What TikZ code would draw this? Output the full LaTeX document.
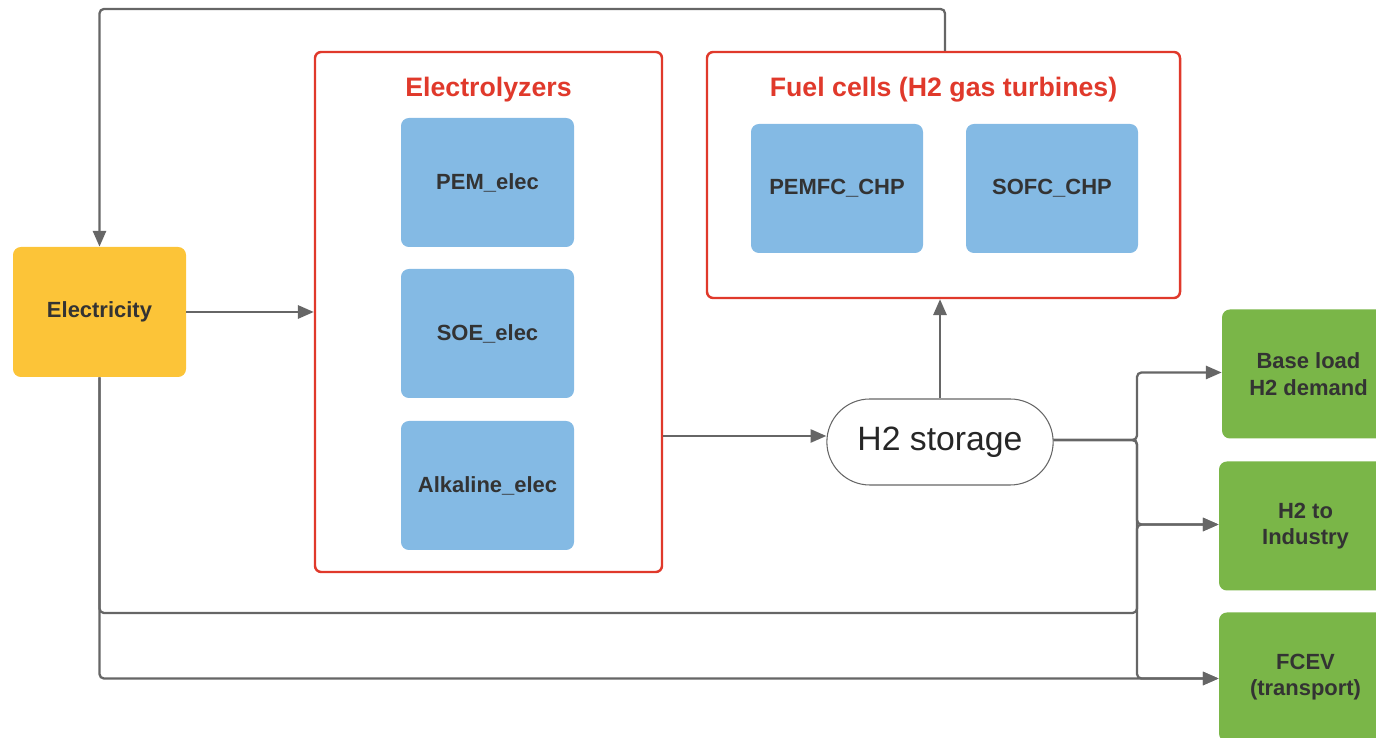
\documentclass[tikz,border=0pt]{standalone}
\usepackage{fontspec}
\setsansfont{Liberation Sans}
\usetikzlibrary{shapes.misc, arrows.meta, positioning, calc}

\definecolor{flowgray}{HTML}{666666}
\definecolor{framered}{HTML}{E0392B}
\definecolor{unitblue}{HTML}{84BAE4}
\definecolor{powyellow}{HTML}{FCC438}
\definecolor{demgreen}{HTML}{7AB648}
\definecolor{labeltext}{HTML}{333333}

\begin{document}
\begin{tikzpicture}[
    every node/.style={font=\sffamily},
    unitbox/.style={draw=none, rectangle, rounded corners=4.5pt, fill=unitblue, align=center, minimum width=3.46cm, minimum height=2.58cm, text=labeltext, font=\sffamily\bfseries\fontsize{12.5}{15}\selectfont},
    powerbox/.style={unitbox, fill=powyellow, minimum height=2.6cm},
    demandbox/.style={unitbox, fill=demgreen},
    groupframe/.style={draw=framered, rectangle, rounded corners=3.5pt, line width=1.4pt, fill=none},
    grouptitle/.style={text=framered, font=\sffamily\bfseries\fontsize{15.2}{18}\selectfont},
    storebox/.style={draw=flowgray, rounded rectangle, line width=0.6pt, minimum width=4.76cm, minimum height=1.72cm, font=\sffamily\fontsize{19.2}{23}\selectfont, text=black!85},
    flow/.style={-{Triangle[length=9pt, width=7.5pt]}, draw=flowgray, line width=1.3pt, rounded corners=2.5pt}
]
    \useasboundingbox (0,0) rectangle (27.52,14.76);

    % Power source
    \node (elec) [powerbox] at (1.99, 8.52) {Electricity};

    % Electrolyzers group
    \node (ely) [groupframe, minimum width=6.94cm, minimum height=10.4cm] at (9.77, 8.52) {};
    \node [grouptitle] at ([yshift=-0.78cm]ely.north) {Electrolyzers};
    \node (pem_elec) [unitbox] at (9.75, 11.11) {PEM\_elec};
    \node (soe_elec) [unitbox] at (9.75, 8.09) {SOE\_elec};
    \node (alk_elec) [unitbox] at (9.75, 5.05) {Alkaline\_elec};

    % Fuel cells group
    \node (fc) [groupframe, minimum width=9.46cm, minimum height=4.92cm] at (18.87, 11.26) {};
    \node [grouptitle] at ([yshift=-0.78cm]fc.north) {Fuel cells (H2 gas turbines)};
    \node (pemfc) [unitbox, minimum width=3.44cm] at (16.74, 10.99) {PEMFC\_CHP};
    \node (sofc) [unitbox, minimum width=3.44cm] at (21.04, 10.99) {SOFC\_CHP};

    % Storage
    \node (h2_store) [storebox] at (18.8, 5.92) {H2 storage};

    % Demands
    \node (base_dem) [demandbox] at (26.17, 7.28) {Base load\\H2 demand};
    \node (ind_dem) [demandbox] at (26.11, 4.24) {H2 to\\Industry};
    \node (fcev_dem) [demandbox] at (26.11, 1.22) {FCEV\\(transport)};

    % Junction points
    \coordinate (split) at (22.74, 5.96);
    \coordinate (top_bend) at (0, 14.58);
    \coordinate (low_bend) at (22.74, 2.5);
    \coordinate (h2_in) at ([yshift=0.12cm]h2_store.west);

    % Feedback from fuel cells to electricity
    \draw [flow] ([xshift=0.03cm]fc.north) |- (top_bend -| elec.north) -- (elec.north);

    % Main chain
    \draw [flow] (elec.east) -- (elec.east -| ely.west);
    \draw [flow] (ely.east |- h2_in) -- (h2_in);
    \draw [flow] (h2_store.north) -- (h2_store.north |- fc.south);

    % Storage to demands
    \draw [flow] (h2_store.east |- split) -- (split) |- ([yshift=0.03cm]base_dem.west);
    \draw [flow] (h2_store.east |- split) -- (split) |- ([yshift=0.03cm]ind_dem.west);
    \draw [flow] (h2_store.east |- split) -- (split) |- ([yshift=-0.03cm]fcev_dem.west);

    % Electricity to demands
    \draw [flow] (elec.south) |- (low_bend) |- ([yshift=0.03cm]ind_dem.west);
    \draw [flow] (elec.south) |- ([yshift=-0.03cm]fcev_dem.west);

\end{tikzpicture}
\end{document}
